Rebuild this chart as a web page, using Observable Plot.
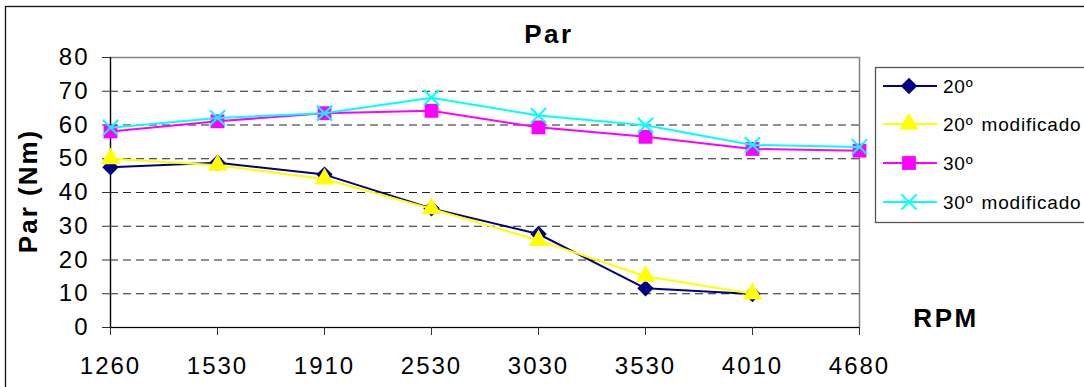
<!DOCTYPE html>
<html>
<head>
<meta charset="utf-8">
<script src="https://cdn.jsdelivr.net/npm/d3@7"></script>
<script src="https://cdn.jsdelivr.net/npm/@observablehq/plot@0.6"></script>
<style>
  html, body { margin: 0; padding: 0; background: #fff; }
  #chart { position: relative; width: 1084px; height: 387px; overflow: hidden; }
  #chart svg text { letter-spacing: 2px; }
</style>
</head>
<body>
<div id="chart"></div>
<script>
// ---- data ----
const rpm = ["1260", "1530", "1910", "2530", "3030", "3530", "4010", "4680"];
const s20 = [47.5, 48.8, 45.3, 35.3, 27.7, 11.6, 9.9];
const s20mod = [50, 48.1, 44.0, 35.2, 25.8, 15.2, 10.0];
const s30 = [58.1, 61.1, 63.5, 64.2, 59.3, 56.5, 52.9, 52.4];
const s30mod = [59.2, 62.1, 63.5, 68.1, 62.8, 59.9, 54.1, 53.5];
const seriesNames = ["20º", "20º modificado", "30º", "30º modificado"];
const seriesValues = [s20, s20mod, s30, s30mod];
const seriesColors = ["#000080", "#FFFF00", "#FF00FF", "#00FFFF"];
const seriesSymbols = ["diamond2", "triangle", "square", "times"];
const seriesR = [7.4, 7.2, 7.8, 7.0];
const yTicks = [0, 10, 20, 30, 40, 50, 60, 70, 80];
const gridTicks = [10, 20, 30, 40, 50, 60, 70];
const titleText = "Par";
const yLabel = "Par (Nm)";
const xLabel = "RPM";

const rows = seriesValues.map((vals, i) =>
  vals.map((v, j) => ({ rpm: rpm[j], val: v, series: seriesNames[i] })));

const marks = [
  Plot.ruleY(gridTicks, { stroke: "#222", strokeDasharray: "8,5", strokeWidth: 1 }),
  Plot.frame({ stroke: "#808080", strokeWidth: 1.5 }),
  Plot.ruleY([0], { stroke: "#000", strokeWidth: 1.2 }),
  Plot.ruleX([rpm[0]], { stroke: "#000", strokeWidth: 1.2 }),
  Plot.axisY({ ticks: yTicks, tickSize: 8, tickPadding: 13, label: null, stroke: "#333" }),
  Plot.axisX({ tickSize: 8, tickPadding: 21, label: null, stroke: "#333" })
];
rows.forEach((data, i) => {
  marks.push(Plot.lineY(data, { x: "rpm", y: "val", stroke: seriesColors[i], strokeWidth: 2 }));
  if (seriesSymbols[i] === "times") {
    marks.push(Plot.dot(data, { x: "rpm", y: "val", symbol: "times", r: seriesR[i], stroke: seriesColors[i], strokeWidth: 2, fill: "none" }));
  } else {
    marks.push(Plot.dot(data, { x: "rpm", y: "val", symbol: seriesSymbols[i], r: seriesR[i], fill: seriesColors[i], stroke: "none" }));
  }
});

const plot = Plot.plot({
  width: 1084,
  height: 387,
  marginLeft: 110,
  marginRight: 225,
  marginTop: 57,
  marginBottom: 60,
  style: { fontFamily: "'Liberation Sans', Arial, sans-serif", fontSize: "24px", color: "#000", background: "#fff", overflow: "hidden" },
  x: { type: "point", domain: rpm, padding: 0 },
  y: { domain: [0, 80] },
  marks
});
document.getElementById("chart").appendChild(plot);

// ---- annotations ----
const svg = d3.select(plot);
svg.insert("rect", ":first-child")
  .attr("x", 5.5).attr("y", 6.5).attr("width", 1200).attr("height", 500)
  .attr("fill", "none").attr("stroke", "#111").attr("stroke-width", 1.3);

const font = "'Liberation Sans', Arial, sans-serif";
svg.append("text").text(titleText)
  .attr("x", 549).attr("y", 43).attr("text-anchor", "middle")
  .attr("font-family", font).attr("font-weight", "bold").attr("font-size", 26)
  .style("letter-spacing", "2.5px");
svg.append("text").text(xLabel)
  .attr("x", 946).attr("y", 327).attr("text-anchor", "middle")
  .attr("font-family", font).attr("font-weight", "bold").attr("font-size", 26)
  .style("letter-spacing", "2.5px");
svg.append("text").text(yLabel)
  .attr("transform", "translate(37,191) rotate(-90)").attr("text-anchor", "middle")
  .attr("font-family", font).attr("font-weight", "bold").attr("font-size", 26)
  .style("letter-spacing", "2px");

// legend
const lg = svg.append("g").attr("text-anchor", "start");
lg.append("rect").attr("x", 875.5).attr("y", 67.5).attr("width", 300).attr("height", 155)
  .attr("fill", "#fff").attr("stroke", "#555").attr("stroke-width", 1.3);
const legendY = [86, 124, 163, 202];
const d3sym = { diamond2: d3.symbolDiamond2, triangle: d3.symbolTriangle, square: d3.symbolSquare, times: d3.symbolTimes };
seriesNames.forEach((name, i) => {
  const cy = legendY[i];
  lg.append("line").attr("x1", 883).attr("x2", 937).attr("y1", cy).attr("y2", cy)
    .attr("stroke", seriesColors[i]).attr("stroke-width", 2);
  const p = lg.append("path")
    .attr("d", d3.symbol(d3sym[seriesSymbols[i]], Math.PI * seriesR[i] * seriesR[i])())
    .attr("transform", `translate(909,${cy})`);
  if (seriesSymbols[i] === "times") p.attr("fill", "none").attr("stroke", seriesColors[i]).attr("stroke-width", 2);
  else p.attr("fill", seriesColors[i]);
  lg.append("text").text(name)
    .attr("x", 943).attr("y", cy + 7).attr("text-anchor", "start")
    .attr("font-family", font).attr("font-size", 19)
    .style("letter-spacing", "0.8px").style("word-spacing", "2px");
});
</script>
</body>
</html>
